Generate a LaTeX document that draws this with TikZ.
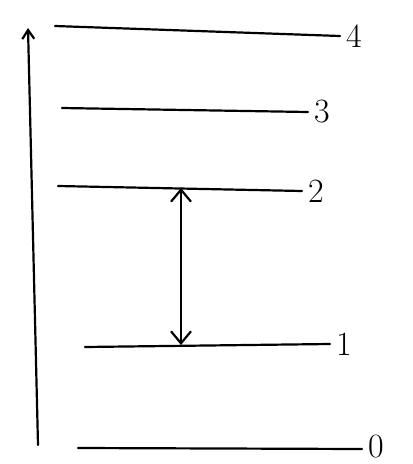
\documentclass[tikz,border=0pt]{standalone}
\usetikzlibrary{arrows.meta}
\tikzset{
  level/.style={line width=2.2pt, line cap=round},
  levellabel/.style={right, inner xsep=5pt, inner ysep=1pt, font=\fontsize{34}{34}\selectfont},
}
\begin{document}
\begin{tikzpicture}[x=1pt,y=-1pt]
      \useasboundingbox (0,0) rectangle (413,464);
      % energy axis
      \coordinate (base) at (38,445);
      \coordinate (top) at (28,28);
      \draw[level, -{Straight Barb[length=9pt, width=12pt]}] (base) -- (top);
      % levels
      \coordinate (l4a) at (55,26);  \coordinate (l4b) at (340,36);
      \coordinate (l3a) at (62,108); \coordinate (l3b) at (308,112);
      \coordinate (l2a) at (58,186); \coordinate (l2b) at (302,191);
      \coordinate (l1a) at (85,347); \coordinate (l1b) at (330,344);
      \coordinate (l0a) at (78,448); \coordinate (l0b) at (362,449);
      \draw[level] (l4a) -- (l4b) node[levellabel] (n4) {4};
      \draw[level] (l3a) -- (l3b) node[levellabel] (n3) {3};
      \draw[level] (l2a) -- (l2b) node[levellabel] (n2) {2};
      \draw[level] (l1a) -- (l1b) node[levellabel] (n1) {1};
      \draw[level] (l0a) -- (l0b) node[levellabel, yshift=2pt] (n0) {0};
      % transition
      \coordinate (up) at (181,188);
      \coordinate (down) at (181,345);
      \draw[level, {Straight Barb[length=12pt, width=20pt]}-{Straight Barb[length=12pt, width=20pt]}] (down) -- (up);
    \end{tikzpicture}
\end{document}
